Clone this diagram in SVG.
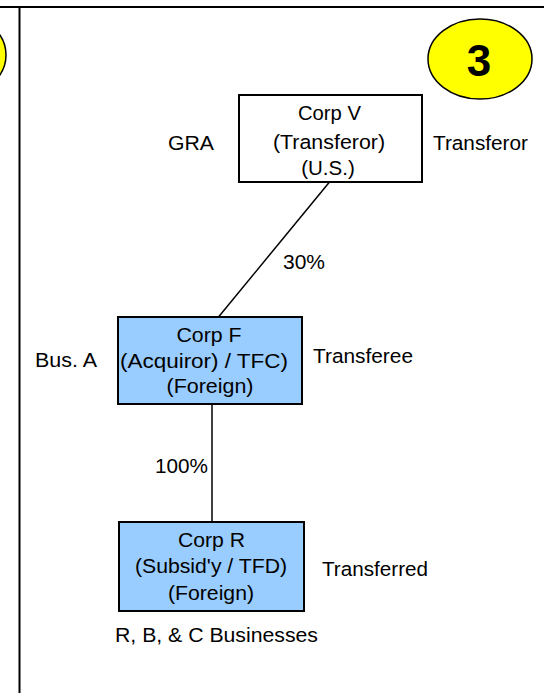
<svg xmlns="http://www.w3.org/2000/svg" width="544" height="693" viewBox="0 0 544 693">
<style>
.t{font-family:"Liberation Sans",Arial,sans-serif;font-size:20.5px;fill:#000;text-anchor:middle}
.box{stroke:#000;stroke-width:2}
.w{fill:#fff}
.b{fill:#99CCFF}
.c{stroke:#000;stroke-width:1.5;fill:none}
.badge{fill:#FFFF00;stroke:#000;stroke-width:1.5}
</style>
<rect x="0" y="0" width="544" height="693" fill="#fff"/>
<g id="frame">
<line x1="0" y1="7" x2="544" y2="7" stroke="#000" stroke-width="2"/>
<line x1="19.5" y1="7" x2="19.5" y2="693" stroke="#000" stroke-width="2"/>
<ellipse class="badge" cx="-46" cy="55" rx="52" ry="42"/>
</g>
<g id="badge3">
<ellipse class="badge" cx="480" cy="59" rx="52" ry="40"/>
<text x="479" y="76" font-family="Liberation Sans,Arial,sans-serif" font-size="44" font-weight="bold" text-anchor="middle">3</text>
</g>
<g id="connectors">
<line class="c" x1="329.5" y1="182" x2="218.5" y2="317"/>
<line class="c" x1="212" y1="404" x2="212" y2="522"/>
<text class="t" x="304" y="269" textLength="42" lengthAdjust="spacingAndGlyphs">30%</text>
<text class="t" x="181.5" y="473" textLength="53" lengthAdjust="spacingAndGlyphs">100%</text>
</g>
<g id="corpV">
<rect class="box w" x="239" y="95" width="183" height="87"/>
<text class="t" x="329.5" y="120" textLength="63" lengthAdjust="spacingAndGlyphs">Corp V</text>
<text class="t" x="329" y="149" textLength="112" lengthAdjust="spacingAndGlyphs">(Transferor)</text>
<text class="t" x="328" y="175">(U.S.)</text>
<text class="t" x="191" y="150" textLength="46" lengthAdjust="spacingAndGlyphs">GRA</text>
<text class="t" x="480.5" y="150" textLength="95" lengthAdjust="spacingAndGlyphs">Transferor</text>
</g>
<g id="corpF">
<rect class="box b" x="118" y="317" width="184" height="87"/>
<text class="t" x="209" y="342" textLength="65" lengthAdjust="spacingAndGlyphs">Corp F</text>
<text class="t" x="204" y="368" textLength="168" lengthAdjust="spacingAndGlyphs">(Acquiror) / TFC)</text>
<text class="t" x="210" y="393" textLength="87" lengthAdjust="spacingAndGlyphs">(Foreign)</text>
<text class="t" x="66" y="367" textLength="62" lengthAdjust="spacingAndGlyphs">Bus. A</text>
<text class="t" x="363" y="363" textLength="100" lengthAdjust="spacingAndGlyphs">Transferee</text>
</g>
<g id="corpR">
<rect class="box b" x="119" y="522" width="185" height="89"/>
<text class="t" x="211.5" y="547" textLength="67" lengthAdjust="spacingAndGlyphs">Corp R</text>
<text class="t" x="211" y="573" textLength="152" lengthAdjust="spacingAndGlyphs">(Subsid'y / TFD)</text>
<text class="t" x="211" y="600" textLength="86" lengthAdjust="spacingAndGlyphs">(Foreign)</text>
<text class="t" x="375" y="576" textLength="106" lengthAdjust="spacingAndGlyphs">Transferred</text>
<text class="t" x="216.5" y="642" textLength="203" lengthAdjust="spacingAndGlyphs">R, B, &amp; C Businesses</text>
</g>
</svg>
